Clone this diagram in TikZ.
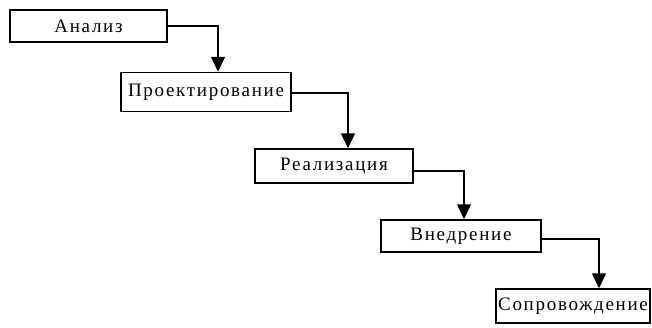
\documentclass[tikz,border=0pt]{standalone}
\usepackage{fontspec}
\setmainfont{Liberation Serif}[LetterSpace=9]
\usetikzlibrary{arrows.meta,calc}
\begin{document}
\begin{tikzpicture}[x=1pt,y=-1pt,
  stage/.style={draw,line width=1.5pt,inner sep=0pt,font=\fontsize{19}{21}\selectfont},
  arr/.style={line width=1.5pt,-{Triangle[width=14pt,length=15pt]}}]
\useasboundingbox (0,0) rectangle (652,327);
\node[stage,minimum width=157pt,minimum height=32pt] (b1) at (88.5,26) {Анализ};
\node[stage,minimum width=170pt,minimum height=39pt] (b2) at (206,92) {Проектирование};
\node[stage,minimum width=158pt,minimum height=34pt] (b3) at (334,166) {Реализация};
\node[stage,minimum width=160pt,minimum height=32pt] (b4) at (461,236) {Внедрение};
\node[stage,minimum width=154pt,minimum height=34pt] (b5) at (573,306) {Сопровождение};
\coordinate (k1) at (218,26);
\coordinate (k2) at (348,93);
\coordinate (k3) at (464,171);
\coordinate (k4) at (599,239);
\draw[arr] (b1.east |- k1) -- (k1) -- (k1 |- b2.north);
\draw[arr] (b2.east |- k2) -- (k2) -- (k2 |- b3.north);
\draw[arr] (b3.east |- k3) -- (k3) -- (k3 |- b4.north);
\draw[arr] (b4.east |- k4) -- (k4) -- (k4 |- b5.north);
\end{tikzpicture}
\end{document}
